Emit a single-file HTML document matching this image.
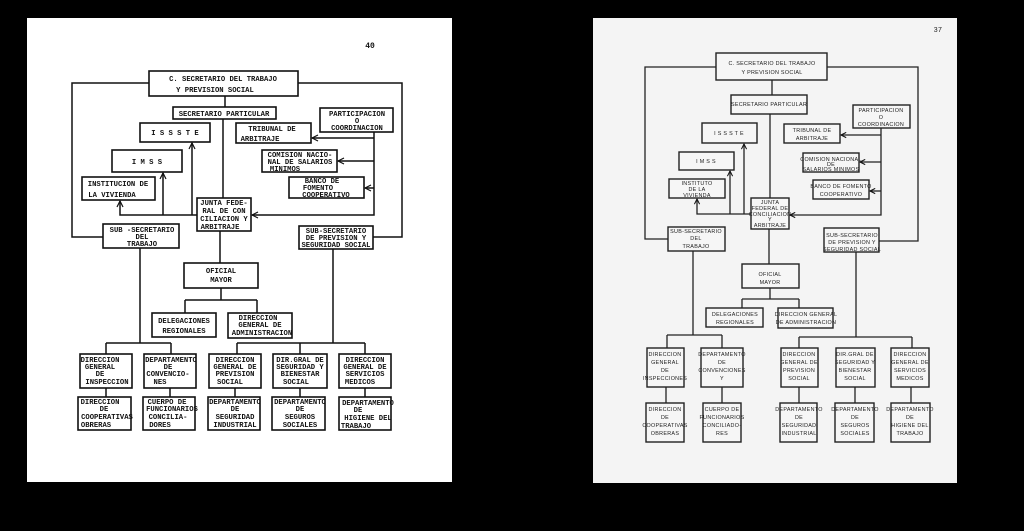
<!DOCTYPE html>
<html><head><meta charset="utf-8"><style>
html,body{margin:0;padding:0;background:#000;}
svg{display:block}
.L rect{fill:#fff;stroke:#111;stroke-width:1.6}
.L path,.L line{stroke:#111;stroke-width:1.5;fill:none}
.L text{font-family:"Liberation Mono",monospace;font-size:7.2px;font-weight:bold;fill:#111;text-anchor:middle}
.R rect{fill:#f6f6f6;stroke:#222;stroke-width:1.4}
.R path,.R line{stroke:#222;stroke-width:1.3;fill:none}
.R text{font-family:"Liberation Sans",sans-serif;font-size:5.4px;fill:#222;text-anchor:middle;letter-spacing:0.3px}
</style></head><body>
<svg width="1024" height="531" viewBox="0 0 1024 531" xmlns="http://www.w3.org/2000/svg">
<defs>
<marker id="a" viewBox="0 0 10 10" refX="9" refY="5" markerWidth="5" markerHeight="5" orient="auto"><path d="M1,1 L9,5 L1,9" stroke="#111" stroke-width="1.6" fill="none"/></marker>
</defs>
<rect width="1024" height="531" fill="#000"/>
<rect x="27" y="18" width="425" height="464" fill="#fff"/>
<rect x="593" y="18" width="364" height="465" fill="#f4f4f4"/>

<g class="L">
<text x="370" y="48" style="font-size:8px">40</text>
<!-- lines -->
<path d="M149,83 H72 V237 H103"/>
<path d="M298,83 H402 V237 H373"/>
<path d="M225,96 V107"/>
<path d="M223,119 V198"/>
<path d="M197,215 H120 V201" marker-end="url(#a)"/>
<path d="M163,215 V173" marker-end="url(#a)"/>
<path d="M192,215 V143" marker-end="url(#a)"/>
<path d="M374,132 V215 H252" marker-end="url(#a)"/>
<path d="M374,138 H312" marker-end="url(#a)"/>
<path d="M374,161 H338" marker-end="url(#a)"/>
<path d="M374,188 H365" marker-end="url(#a)"/>
<path d="M140,248 V343"/><path d="M333,249 V343"/>
<path d="M220,231 V263"/>
<path d="M221,288 V300 M185,300 H257 M185,300 V313 M257,300 V313"/>
<path d="M106,343 H171 M106,343 V354 M171,343 V354"/>
<path d="M237,343 H365 M237,343 V354 M300,343 V354 M365,343 V354"/>
<path d="M106,388 V397 M170,388 V397 M235,388 V397 M300,388 V397 M365,388 V397"/>
<!-- boxes -->
<rect x="149" y="71" width="149" height="25"/>
<text x="223" y="81">C. SECRETARIO DEL TRABAJO</text><text x="215" y="92">Y PREVISION SOCIAL</text>
<rect x="173" y="107" width="103" height="12"/><text x="224" y="116">SECRETARIO PARTICULAR</text>
<rect x="140" y="123" width="70" height="19"/><text x="175" y="135">I S S S T E</text>
<rect x="112" y="150" width="70" height="22"/><text x="147" y="164">I M S S</text>
<rect x="82" y="177" width="73" height="23"/><text x="118" y="186">INSTITUCION DE</text><text x="112" y="197">LA VIVIENDA</text>
<rect x="197" y="198" width="54" height="33"/><text x="224" y="205">JUNTA FEDE-</text><text x="224" y="213">RAL DE CON</text><text x="224" y="221">CILIACION Y</text><text x="220" y="229">ARBITRAJE</text>
<rect x="236" y="123" width="75" height="20"/><text x="272" y="131">TRIBUNAL DE</text><text x="260" y="141">ARBITRAJE</text>
<rect x="320" y="108" width="73" height="24"/><text x="357" y="116">PARTICIPACION</text><text x="357" y="123">O</text><text x="357" y="130">COORDINACION</text>
<rect x="262" y="150" width="75" height="22"/><text x="300" y="157">COMISION NACIO-</text><text x="300" y="164">NAL DE SALARIOS</text><text x="285" y="171">MINIMOS</text>
<rect x="289" y="177" width="75" height="21"/><text x="322" y="183">BANCO DE</text><text x="318" y="190">FOMENTO</text><text x="326" y="197">COOPERATIVO</text>
<rect x="103" y="224" width="76" height="24"/><text x="142" y="232">SUB -SECRETARIO</text><text x="142" y="239">DEL</text><text x="142" y="246">TRABAJO</text>
<rect x="299" y="226" width="74" height="23"/><text x="336" y="233">SUB-SECRETARIO</text><text x="336" y="240">DE PREVISION Y</text><text x="336" y="247">SEGURIDAD SOCIAL</text>
<rect x="184" y="263" width="74" height="25"/><text x="221" y="273">OFICIAL</text><text x="221" y="282">MAYOR</text>
<rect x="152" y="313" width="64" height="24"/><text x="184" y="323">DELEGACIONES</text><text x="184" y="333">REGIONALES</text>
<rect x="228" y="313" width="64" height="25"/><text x="258" y="320">DIRECCION</text><text x="260" y="327">GENERAL DE</text><text x="262" y="335">ADMINISTRACION</text>
<rect x="80" y="354" width="52" height="34"/><text x="100" y="362">DIRECCION</text><text x="100" y="369">GENERAL</text><text x="100" y="376">DE</text><text x="107" y="384">INSPECCION</text>
<rect x="144" y="354" width="52" height="34"/><text x="171" y="362">DEPARTAMENTO</text><text x="168" y="369">DE</text><text x="168" y="376">CONVENCIO-</text><text x="160" y="384">NES</text>
<rect x="209" y="354" width="52" height="34"/><text x="235" y="362">DIRECCION</text><text x="235" y="369">GENERAL DE</text><text x="235" y="376">PREVISION</text><text x="230" y="384">SOCIAL</text>
<rect x="273" y="354" width="54" height="34"/><text x="300" y="362">DIR.GRAL DE</text><text x="300" y="369">SEGURIDAD Y</text><text x="300" y="376">BIENESTAR</text><text x="296" y="384">SOCIAL</text>
<rect x="339" y="354" width="52" height="34"/><text x="365" y="362">DIRECCION</text><text x="365" y="369">GENERAL DE</text><text x="365" y="376">SERVICIOS</text><text x="360" y="384">MEDICOS</text>
<rect x="78" y="397" width="53" height="33"/><text x="100" y="404">DIRECCION</text><text x="104" y="411">DE</text><text x="107" y="419">COOPERATIVAS</text><text x="96" y="427">OBRERAS</text>
<rect x="143" y="397" width="52" height="33"/><text x="167" y="404">CUERPO DE</text><text x="172" y="411">FUNCIONARIOS</text><text x="168" y="419">CONCILIA-</text><text x="160" y="427">DORES</text>
<rect x="208" y="397" width="52" height="33"/><text x="235" y="404">DEPARTAMENTO</text><text x="235" y="411">DE</text><text x="235" y="419">SEGURIDAD</text><text x="235" y="427">INDUSTRIAL</text>
<rect x="272" y="397" width="53" height="33"/><text x="300" y="404">DEPARTAMENTO</text><text x="300" y="411">DE</text><text x="300" y="419">SEGUROS</text><text x="300" y="427">SOCIALES</text>
<rect x="339" y="397" width="52" height="33"/><text x="368" y="405">DEPARTAMENTO</text><text x="358" y="412">DE</text><text x="368" y="420">HIGIENE DEL</text><text x="356" y="428">TRABAJO</text>
</g>

<g class="R">
<text x="938" y="32" style="font-size:7px">37</text>
<path d="M716,67 H645 V239 H668"/>
<path d="M827,67 H918 V241 H879"/>
<path d="M772,80 V95"/>
<path d="M770,114 V198"/>
<path d="M751,214 H697 V199" marker-end="url(#a)"/>
<path d="M730,214 V171" marker-end="url(#a)"/>
<path d="M744,214 V144" marker-end="url(#a)"/>
<path d="M881,128 V215 H790" marker-end="url(#a)"/>
<path d="M881,135 H841" marker-end="url(#a)"/>
<path d="M881,162 H860" marker-end="url(#a)"/>
<path d="M881,191 H870" marker-end="url(#a)"/>
<path d="M693,251 V335"/><path d="M856,252 V337"/>
<path d="M769,229 V264"/>
<path d="M770,288 V299 M742,299 H799 M742,299 V308 M799,299 V308"/>
<path d="M667,335 H722 M667,335 V348 M722,335 V348"/>
<path d="M799,337 H912 M799,337 V348 M912,337 V348"/>
<path d="M666,387 V403 M722,387 V403 M799,387 V403 M855,387 V403 M911,387 V403"/>
<rect x="716" y="53" width="111" height="27"/><text x="772" y="65">C. SECRETARIO DEL TRABAJO</text><text x="772" y="74">Y PREVISION SOCIAL</text>
<rect x="731" y="95" width="76" height="19"/><text x="769" y="106">SECRETARIO PARTICULAR</text>
<rect x="702" y="123" width="55" height="20"/><text x="729" y="135">I S S S T E</text>
<rect x="679" y="152" width="55" height="18"/><text x="706" y="163">I M S S</text>
<rect x="669" y="179" width="56" height="19"/><text x="697" y="185">INSTITUTO</text><text x="697" y="191">DE LA</text><text x="697" y="197">VIVIENDA</text>
<rect x="751" y="198" width="38" height="31"/><text x="770" y="204">JUNTA</text><text x="770" y="210">FEDERAL DE</text><text x="770" y="216">CONCILIACION</text><text x="770" y="221">Y</text><text x="770" y="227">ARBITRAJE</text>
<rect x="784" y="124" width="56" height="19"/><text x="812" y="132">TRIBUNAL DE</text><text x="812" y="140">ARBITRAJE</text>
<rect x="853" y="105" width="57" height="23"/><text x="881" y="112">PARTICIPACION</text><text x="881" y="119">O</text><text x="881" y="126">COORDINACION</text>
<rect x="803" y="153" width="56" height="19"/><text x="831" y="161">COMISION NACIONAL</text><text x="831" y="166">DE</text><text x="831" y="171">SALARIOS MINIMOS</text>
<rect x="813" y="180" width="56" height="19"/><text x="841" y="188">BANCO DE FOMENTO</text><text x="841" y="196">COOPERATIVO</text>
<rect x="668" y="227" width="57" height="24"/><text x="696" y="233">SUB-SECRETARIO</text><text x="696" y="240">DEL</text><text x="696" y="248">TRABAJO</text>
<rect x="824" y="228" width="55" height="24"/><text x="852" y="237">SUB-SECRETARIO</text><text x="852" y="244">DE PREVISION Y</text><text x="852" y="251">SEGURIDAD SOCIAL</text>
<rect x="742" y="264" width="57" height="24"/><text x="770" y="276">OFICIAL</text><text x="770" y="284">MAYOR</text>
<rect x="706" y="308" width="57" height="19"/><text x="735" y="316">DELEGACIONES</text><text x="735" y="324">REGIONALES</text>
<rect x="778" y="308" width="55" height="20"/><text x="806" y="316">DIRECCION GENERAL</text><text x="806" y="324">DE ADMINISTRACION</text>
<rect x="647" y="348" width="37" height="39"/><text x="665" y="356">DIRECCION</text><text x="665" y="364">GENERAL</text><text x="665" y="372">DE</text><text x="665" y="380">INSPECCIONES</text>
<rect x="701" y="348" width="42" height="39"/><text x="722" y="356">DEPARTAMENTO</text><text x="722" y="364">DE</text><text x="722" y="372">CONVENCIONES</text><text x="722" y="380">Y</text>
<rect x="781" y="348" width="37" height="39"/><text x="799" y="356">DIRECCION</text><text x="799" y="364">GENERAL DE</text><text x="799" y="372">PREVISION</text><text x="799" y="380">SOCIAL</text>
<rect x="836" y="348" width="39" height="39"/><text x="855" y="356">DIR.GRAL DE</text><text x="855" y="364">SEGURIDAD Y</text><text x="855" y="372">BIENESTAR</text><text x="855" y="380">SOCIAL</text>
<rect x="891" y="348" width="38" height="39"/><text x="910" y="356">DIRECCION</text><text x="910" y="364">GENERAL DE</text><text x="910" y="372">SERVICIOS</text><text x="910" y="380">MEDICOS</text>
<rect x="646" y="403" width="38" height="39"/><text x="665" y="411">DIRECCION</text><text x="665" y="419">DE</text><text x="665" y="427">COOPERATIVAS</text><text x="665" y="435">OBRERAS</text>
<rect x="703" y="403" width="38" height="39"/><text x="722" y="411">CUERPO DE</text><text x="722" y="419">FUNCIONARIOS</text><text x="722" y="427">CONCILIADO-</text><text x="722" y="435">RES</text>
<rect x="780" y="403" width="37" height="39"/><text x="799" y="411">DEPARTAMENTO</text><text x="799" y="419">DE</text><text x="799" y="427">SEGURIDAD</text><text x="799" y="435">INDUSTRIAL</text>
<rect x="835" y="403" width="39" height="39"/><text x="855" y="411">DEPARTAMENTO</text><text x="855" y="419">DE</text><text x="855" y="427">SEGUROS</text><text x="855" y="435">SOCIALES</text>
<rect x="891" y="403" width="39" height="39"/><text x="910" y="411">DEPARTAMENTO</text><text x="910" y="419">DE</text><text x="910" y="427">HIGIENE DEL</text><text x="910" y="435">TRABAJO</text>
</g>
</svg>
</body></html>
